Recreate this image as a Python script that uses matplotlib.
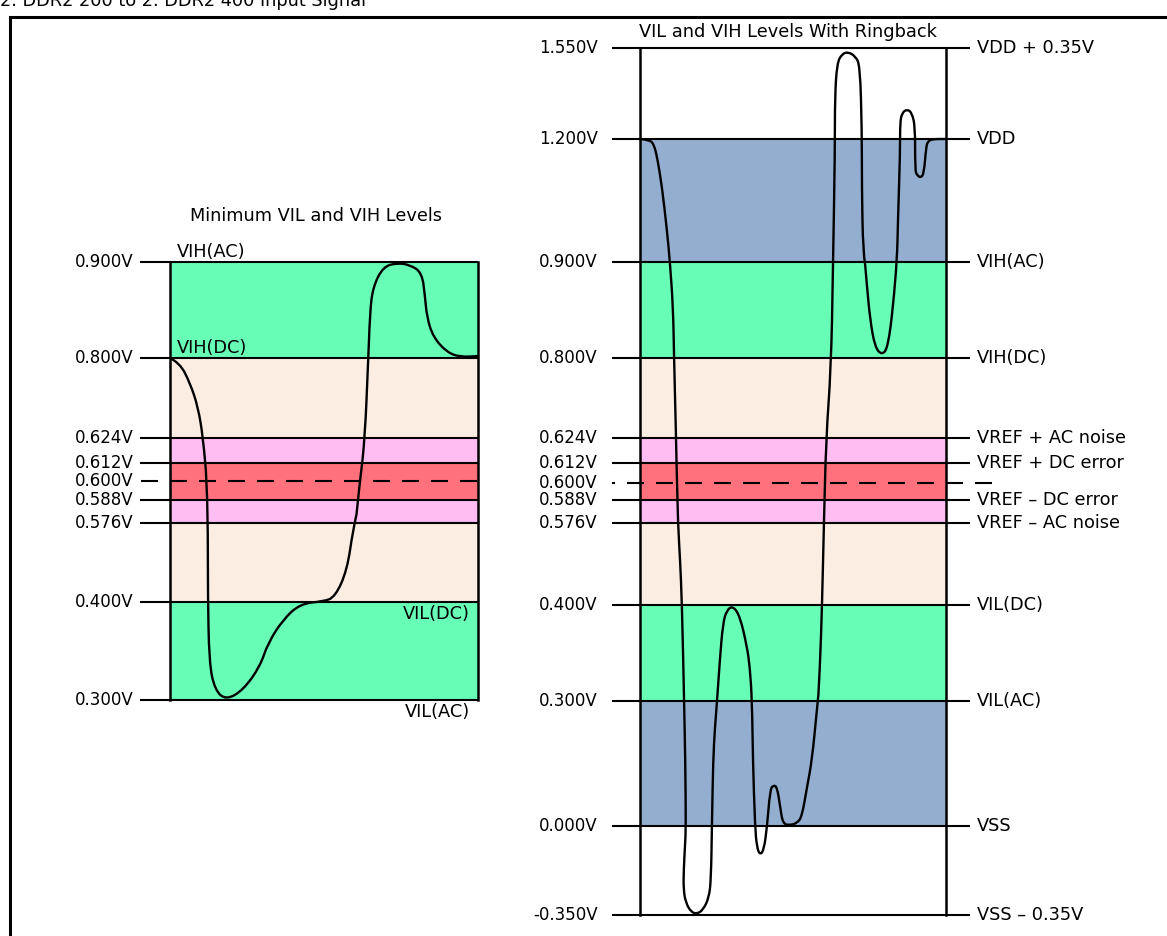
import numpy as np
import matplotlib
matplotlib.use("Agg")
import matplotlib.pyplot as plt
from matplotlib.lines import Line2D
from matplotlib.path import Path
from matplotlib.patches import PathPatch

plt.rcParams['font.family'] = ['DejaVu Sans']
plt.rcParams['lines.scale_dashes'] = False

# ---------------- data ----------------
header = "2. DDR2 200 to 2. DDR2 400 Input Signal"
left_title = "Minimum VIL and VIH Levels"
right_title = "VIL and VIH Levels With Ringback"

left_levels = [0.900, 0.800, 0.624, 0.612, 0.600, 0.588, 0.576, 0.400, 0.300]
left_labels = ["0.900V", "0.800V", "0.624V", "0.612V", "0.600V", "0.588V", "0.576V", "0.400V", "0.300V"]

right_levels = [1.550, 1.200, 0.900, 0.800, 0.624, 0.612, 0.600, 0.588, 0.576, 0.400, 0.300, 0.000, -0.350]
right_labels = ["1.550V", "1.200V", "0.900V", "0.800V", "0.624V", "0.612V", "0.600V", "0.588V",
                "0.576V", "0.400V", "0.300V", "0.000V", "-0.350V"]
right_names = ["VDD + 0.35V", "VDD", "VIH(AC)", "VIH(DC)", "VREF + AC noise", "VREF + DC error", "",
               "VREF \u2013 DC error", "VREF \u2013 AC noise", "VIL(DC)", "VIL(AC)", "VSS", "VSS \u2013 0.35V"]

# bands (low, high, zone)
left_bands = [(0.3, 0.4, "ac"), (0.4, 0.576, "dc"), (0.576, 0.588, "noise"), (0.588, 0.612, "err"),
              (0.612, 0.624, "noise"), (0.624, 0.8, "dc"), (0.8, 0.9, "ac")]
right_bands = [(0.0, 0.3, "rail"), (0.3, 0.4, "ac"), (0.4, 0.576, "dc"), (0.576, 0.588, "noise"),
               (0.588, 0.612, "err"), (0.612, 0.624, "noise"), (0.624, 0.8, "dc"), (0.8, 0.9, "ac"),
               (0.9, 1.2, "rail")]

# waveforms: normalised time, volts
left_t = [0.000, 0.032, 0.065, 0.091, 0.107, 0.120, 0.123, 0.123, 0.127, 0.146, 0.182, 0.237, 0.292,
          0.318, 0.367, 0.422, 0.497, 0.536, 0.575, 0.594, 0.617, 0.633, 0.643, 0.649, 0.659, 0.692,
          0.737, 0.779, 0.818, 0.828, 0.834, 0.854, 0.899, 0.942, 1.000]
left_v = [0.800, 0.789, 0.745, 0.692, 0.626, 0.601, 0.560, 0.411, 0.338, 0.310, 0.300, 0.310, 0.334,
          0.358, 0.382, 0.398, 0.401, 0.411, 0.471, 0.560, 0.601, 0.626, 0.789, 0.847, 0.874, 0.895,
          0.899, 0.897, 0.889, 0.864, 0.843, 0.822, 0.806, 0.801, 0.802]

right_t = [0.000, 0.033, 0.046, 0.056, 0.072, 0.088, 0.098, 0.108, 0.111, 0.118, 0.121, 0.124, 0.131,
           0.137, 0.144, 0.148, 0.150, 0.147, 0.143, 0.142, 0.150, 0.167, 0.186, 0.206, 0.225, 0.232,
           0.235, 0.239, 0.245, 0.252, 0.261, 0.271, 0.284, 0.304, 0.327, 0.350, 0.359, 0.366, 0.369,
           0.376, 0.382, 0.392, 0.405, 0.415, 0.425, 0.435, 0.448, 0.458, 0.467, 0.490, 0.513, 0.529,
           0.546, 0.562, 0.578, 0.588, 0.595, 0.601, 0.608, 0.624, 0.631, 0.637, 0.637, 0.644, 0.660,
           0.680, 0.703, 0.719, 0.725, 0.725, 0.729, 0.742, 0.752, 0.768, 0.791, 0.810, 0.827, 0.840,
           0.843, 0.850, 0.850, 0.856, 0.873, 0.889, 0.899, 0.899, 0.905, 0.918, 0.928, 0.935, 0.941,
           0.958, 1.000]
right_v = [1.200, 1.198, 1.185, 1.156, 1.083, 0.978, 0.899, 0.853, 0.805, 0.623, 0.600, 0.576, 0.497,
           0.404, 0.301, 0.158, -0.004, -0.080, -0.170, -0.250, -0.303, -0.338, -0.346, -0.330, -0.283,
           -0.212, -0.004, 0.158, 0.238, 0.301, 0.343, 0.381, 0.395, 0.399, 0.388, 0.356, 0.335, 0.301,
           0.158, -0.004, -0.083, -0.114, -0.094, -0.004, 0.086, 0.098, 0.094, 0.046, 0.005, 0.002,
           0.007, 0.022, 0.094, 0.158, 0.278, 0.335, 0.400, 0.576, 0.624, 0.774, 0.905, 1.166, 1.362,
           1.492, 1.527, 1.535, 1.519, 1.485, 1.235, 1.083, 0.922, 0.874, 0.840, 0.811, 0.803, 0.811,
           0.853, 0.905, 1.002, 1.166, 1.262, 1.300, 1.315, 1.300, 1.246, 1.124, 1.112, 1.105, 1.117,
           1.180, 1.195, 1.200, 1.200]

# ---------------- style / layout ----------------
W, H = 1167, 936
zone_colors = {"ac": "#68FDB6", "dc": "#FCEDE2", "noise": "#FFBDF2", "err": "#FF717D", "rail": "#94AECF"}
FS_NUM = 12
FS_TXT = 12.8
LW = 1.5
PX = 0.72  # points per pixel at 100 dpi
DASH = (17 * PX, 12 * PX)

# vertical placement (pixel rows) of each level -> schematic piecewise scale
left_rows = [262, 358, 438, 463, 481, 500, 523, 602, 700]
right_rows = [48, 139, 262, 358, 438, 463, 483, 500, 523, 605, 701, 826, 915]


def make_scale(levels, rows):
    lv = np.array(levels[::-1], float)      # ascending volts
    rw = -np.array(rows[::-1], float)       # ascending positions
    def fwd(v):
        return np.interp(v, lv, rw)
    def inv(p):
        return np.interp(p, rw, lv)
    return fwd, inv


def smooth_trace(ax, t, v, lw=1.7):
    pts = np.column_stack([t, v]).astype(float)
    verts = [pts[0]]
    codes = [Path.MOVETO]
    for i in range(1, len(pts) - 1):
        verts += [pts[i], (pts[i] + pts[i + 1]) / 2]
        codes += [Path.CURVE3, Path.CURVE3]
    verts.append(pts[-1])
    codes.append(Path.LINETO)
    patch = PathPatch(Path(verts, codes), fill=False, edgecolor="black", lw=lw,
                      transform=ax.transData, clip_on=False, zorder=4, joinstyle="round")
    ax.add_patch(patch)


fig = plt.figure(figsize=(W / 100, H / 100), dpi=100)

# outer frame
fig.add_artist(Line2D([10 / W, 10 / W], [0, 1 - 17 / H], color="black", lw=2.2, transform=fig.transFigure))
fig.add_artist(Line2D([10 / W, 1], [1 - 17 / H, 1 - 17 / H], color="black", lw=2.2, transform=fig.transFigure))
fig.text(0.0, 1 - 6 / H, header, fontsize=FS_TXT, ha="left", va="baseline")


def panel(x0, x1, levels, rows, bands, labels, ext_left, lab_right_px, dash_range, dash_offset):
    top, bot = rows[0], rows[-1]
    ax = fig.add_axes([x0 / W, 1 - bot / H, (x1 - x0) / W, (bot - top) / H])
    ax.set_axis_off()
    ax.set_xlim(0, 1)
    ax.set_yscale("function", functions=make_scale(levels, rows))
    ax.set_ylim(levels[-1], levels[0])
    for lo, hi, z in bands:
        ax.axhspan(lo, hi, xmin=0, xmax=1, color=zone_colors[z], lw=0, zorder=0)
    tr = ax.get_yaxis_transform()
    xl = (ext_left - x0) / (x1 - x0)
    for v, lab in zip(levels, labels):
        if abs(v - 0.6) < 1e-9:
            xa = (dash_range[0] - x0) / (x1 - x0)
            xb = (dash_range[1] - x0) / (x1 - x0)
            ln = Line2D([xa, xb], [v, v], color="black", lw=LW, transform=tr, clip_on=False, zorder=3,
                        linestyle=(dash_offset, DASH), dash_capstyle="butt")
            ax.add_line(ln)
        else:
            ax.plot([xl, 1], [v, v], color="black", lw=LW, transform=tr, clip_on=False, zorder=3,
                    solid_capstyle="butt")
        ax.text((lab_right_px - x0) / (x1 - x0), v, lab, transform=tr, ha="right", va="center",
                fontsize=FS_NUM)
    ax.plot([0, 0], [levels[-1], levels[0]], color="black", lw=1.8, clip_on=False, zorder=3)
    ax.plot([1, 1], [levels[-1], levels[0]], color="black", lw=1.8, clip_on=False, zorder=3)
    return ax, tr


# left panel
axl, trl = panel(170, 478, left_levels, left_rows, left_bands, left_labels, 140, 134, (141, 478), 0)
smooth_trace(axl, left_t, left_v)
fig.text(316 / W, 1 - 216 / H, left_title, ha="center", va="center", fontsize=FS_TXT)
axl.annotate("VIH(AC)", xy=(7 / 308, 0.9), xycoords=trl, xytext=(0, 0.5), textcoords="offset points",
             ha="left", va="bottom", fontsize=FS_TXT)
axl.annotate("VIH(DC)", xy=(7 / 308, 0.8), xycoords=trl, xytext=(0, 0.5), textcoords="offset points",
             ha="left", va="bottom", fontsize=FS_TXT)
axl.annotate("VIL(DC)", xy=(300 / 308, 0.4), xycoords=trl, xytext=(0, -2), textcoords="offset points",
             ha="right", va="top", fontsize=FS_TXT)
axl.annotate("VIL(AC)", xy=(300 / 308, 0.3), xycoords=trl, xytext=(0, -2), textcoords="offset points",
             ha="right", va="top", fontsize=FS_TXT)

# right panel
axr, trr = panel(640, 946, right_levels, right_rows, right_bands, right_labels, 612, 598, (612, 1000),
                 14 * PX)
for v in right_levels:
    if abs(v - 0.6) > 1e-9:
        axr.plot([1, (970 - 640) / 306], [v, v], color="black", lw=LW, transform=trr, clip_on=False,
                 zorder=3, solid_capstyle="butt")
for v, name in zip(right_levels, right_names):
    if name:
        axr.text((977 - 640) / 306, v, name, transform=trr, ha="left", va="center", fontsize=FS_TXT)
smooth_trace(axr, right_t, right_v)
fig.text(788 / W, 1 - 32 / H, right_title, ha="center", va="center", fontsize=FS_TXT)

fig.savefig("out.png", dpi=100)
